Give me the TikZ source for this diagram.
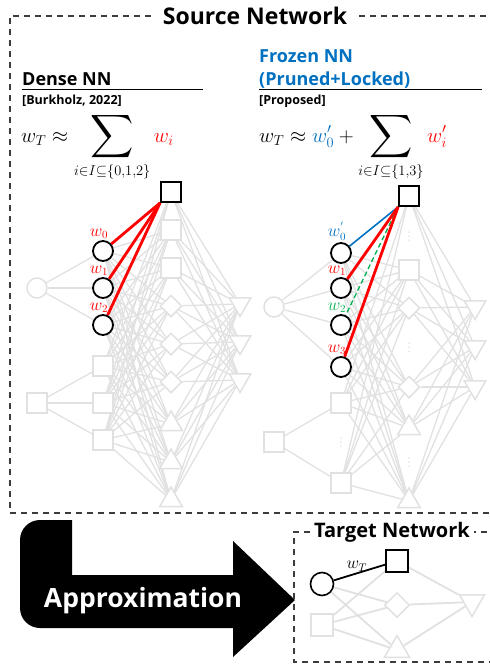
\documentclass[tikz,border=0pt]{standalone}
\usepackage{exscale}
\usepackage{fontspec}
\setmainfont{Open Sans}
\newfontfamily\symfont{DejaVu Sans}
\usepackage{graphicx}
\usetikzlibrary{positioning, shapes.geometric, backgrounds, calc}
\definecolor{netgray}{RGB}{225,225,225}
\definecolor{frozenblue}{RGB}{0,112,192}
\definecolor{lockgreen}{RGB}{0,176,80}
\definecolor{framegray}{RGB}{60,60,60}
\newcommand{\bigsum}{\mathop{\vcenter{\hbox{\scalebox{1.45}{$\displaystyle\sum$}}}}\limits}
\tikzset{
  gnode/.style  = {draw=netgray, line width=1.5pt, fill=white, inner sep=0pt},
  gcirc/.style  = {gnode, circle, minimum size=20pt},
  gsq/.style    = {gnode, rectangle, minimum size=20pt},
  gdia/.style   = {gnode, diamond, minimum size=22pt},
  gtriup/.style = {gnode, regular polygon, regular polygon sides=3, minimum size=26pt},
  gtridn/.style = {gtriup, shape border rotate=180, minimum size=25pt},
  hl/.style     = {draw=black, line width=1.8pt},
  hcirc/.style  = {gcirc, hl},
  hsq/.style    = {gsq, hl},
  glink/.style  = {draw=netgray, line width=1.3pt},
  wred/.style   = {draw=red, line width=2.8pt},
  frame/.style  = {draw=framegray, line width=1.3pt, dash pattern=on 6pt off 5pt},
  title/.style  = {fill=white, font=\bfseries\fontsize{23}{26}\selectfont, inner xsep=12pt},
  head/.style   = {anchor=base west, inner sep=0pt, font=\bfseries\fontsize{18}{23}\selectfont},
  cite/.style   = {anchor=base west, inner sep=0pt, font=\bfseries\fontsize{12.5}{14}\selectfont},
  eq/.style     = {anchor=base west, inner sep=0pt, font=\fontsize{22}{26}\selectfont},
  wlab/.style   = {font=\fontsize{16}{18}\selectfont, inner sep=1pt},
  vdot/.style   = {text=netgray, font=\symfont\fontsize{12}{12}\selectfont, inner sep=0pt},
}

\begin{document}
\begin{tikzpicture}[x=1pt, y=-1pt]
  \useasboundingbox (0,0) rectangle (490,667);
  \clip (0,0) rectangle (490,667);

  % source frame
  \node[title] (src) at (255,16) {Source Network};
  \draw[frame] (src.west) -- (10,16) -- (10,513) -- (500,513) -- (500,16) -- (src.east);

  % headers
  \node[head] (dense) at (22,85) {Dense NN};
  \draw[line width=1pt] (22,89.5) -- (203,89.5);
  \node[cite] (burk) at (22,104) {[Burkholz, 2022]};
  \node[head, frozenblue, align=left] (frozen) at (259,85) {Frozen NN\\(Pruned+Locked)};
  \draw[line width=1pt] (259,89.5) -- (482,89.5);
  \node[cite] (prop) at (259,104) {[Proposed]};

  \node[eq] (eqL) at (21,142) {$\displaystyle w_T \approx \bigsum_{i\in I\subseteq\{0,1,2\}} {\color{red}w_i}$};
  \node[eq] (eqR) at (259,142) {$\displaystyle w_T \approx {\color{frozenblue}w_0'} + \bigsum_{i\in I\subseteq\{1,3\}} {\color{red}w_i'}$};

  % dense network
  \node[gcirc] (a0) at (37,288) {};
  \node[gsq] (a1) at (37,403) {};
  \foreach \k/\y/\i in {1/251/0, 2/288/1, 3/325/2}
    \node[hcirc, label={[wlab, red, xshift=-4pt]above:$w_\i$}] (ac\k) at (103,\y) {};
  \foreach \k/\y in {1/366, 2/403, 3/440}
    \node[gsq] (as\k) at (103,\y) {};
  \foreach \k/\s/\y in {1/hsq/192, 2/gsq/230, 3/gsq/268, 4/gdia/306, 5/gdia/344,
                        6/gdia/382, 7/gtriup/424, 8/gtriup/462, 9/gtriup/500}
    \node[\s] (b\k) at (171,\y) {};
  \foreach \k/\y in {1/304, 2/342, 3/380}
    \node[gtridn] (c\k) at (240,\y) {};
  \begin{scope}[on background layer]
    \foreach \k in {1,2,3} {
      \draw[glink] (a0) -- (ac\k);
      \draw[glink] (a1) -- (as\k);
      \foreach \v in {2,...,9} \draw[glink] (ac\k) -- (b\v);
      \foreach \v in {1,...,9} \draw[glink] (as\k) -- (b\v);
      \foreach \v in {1,...,9} \draw[glink] (b\v) -- (c\k);
    }
    \foreach \k in {1,2,3} \draw[wred] (b1.south west) -- (ac\k);
  \end{scope}

  % frozen network
  \node[gcirc] (d0) at (274,307) {};
  \node[gsq] (d1) at (274,442) {};
  \foreach \k/\y/\c/\t in {1/253/frozenblue/{w_0^{'}}, 2/288/red/w_1, 3/325/lockgreen/w_2, 4/367/red/w_3}
    \node[hcirc, label={[wlab, \c, xshift=-4pt]above:$\t$}] (dc\k) at (341,\y) {};
  \node[gsq] (ds1) at (341,403) {};
  \node[vdot] (dd1) at (341,443) {⋮};
  \node[gsq] (ds2) at (341,483) {};
  \node[hsq] (e1) at (409,196) {};
  \node[vdot] (dd2) at (409,237) {⋮};
  \node[gsq] (e2) at (409,270) {};
  \node[gdia] (e3) at (409,308) {};
  \node[vdot] (dd3) at (409,348) {⋮};
  \node[gdia] (e4) at (409,387) {};
  \node[gtriup] (e5) at (409,428) {};
  \node[vdot] (dd4) at (409,463) {⋮};
  \node[gtriup] (e6) at (409,501) {};
  \foreach \k/\y in {1/307, 2/347, 3/387}
    \node[gtridn] (f\k) at (475,\y) {};
  \begin{scope}[on background layer]
    \foreach \k in {1,...,4} \draw[glink] (d0) -- (dc\k);
    \foreach \k in {1,2} \draw[glink] (d1) -- (ds\k);
    \foreach \u in {dc1,dc2,dc3,dc4} \foreach \v in {2,...,6} \draw[glink] (\u) -- (e\v);
    \foreach \u in {ds1,ds2} \foreach \v in {1,...,6} \draw[glink] (\u) -- (e\v);
    \foreach \v in {1,...,6} \foreach \w in {1,2,3} \draw[glink] (e\v) -- (f\w);
    \draw[frozenblue, line width=1.6pt] (e1.south west) -- (dc1);
    \draw[wred] (e1.south west) -- (dc2);
    \draw[lockgreen, line width=1.3pt, dash pattern=on 5pt off 3pt] (e1.south west) -- (dc3);
    \draw[wred] (e1.south west) -- (dc4);
  \end{scope}

  % approximation arrow
  \fill[black] (72,520) -- (72,575) -- (233,575) -- (233,541) -- (295,600) -- (233,657)
    -- (233,628) [rounded corners=20pt] -- (20,628) -- (20,520) [sharp corners] -- cycle;
  \node[text=white, font=\bfseries\fontsize{26.5}{30}\selectfont] (apx) at (143,601) {Approximation};

  % target network
  \node[title, font=\bfseries\fontsize{20}{23}\selectfont, inner xsep=4pt] (tgt) at (392,532) {Target Network};
  \draw[frame] (tgt.west) -- (294,532) -- (294,662) -- (500,662) -- (500,532) -- (tgt.east);
  \node[hcirc, minimum size=23pt, line width=1.6pt] (t0) at (322,584) {};
  \node[gsq, minimum size=22pt] (t1) at (322,625) {};
  \node[hsq, minimum size=22pt, line width=1.6pt] (t2) at (397,561) {};
  \node[gdia, minimum size=25pt] (t3) at (397,605) {};
  \node[gtriup, minimum size=29pt] (t4) at (397,650) {};
  \node[gtridn, minimum size=29pt] (t5) at (472,602) {};
  \begin{scope}[on background layer]
    \foreach \u/\v in {t0/t3, t0/t4, t1/t2, t1/t3, t1/t4, t2/t5, t3/t5, t4/t5}
      \draw[glink, line width=1.8pt] (\u) -- (\v);
  \end{scope}
  \draw[line width=1.8pt] (t0) -- node[wlab, above, pos=0.45] {$w_T$} (t2);
\end{tikzpicture}
\end{document}
